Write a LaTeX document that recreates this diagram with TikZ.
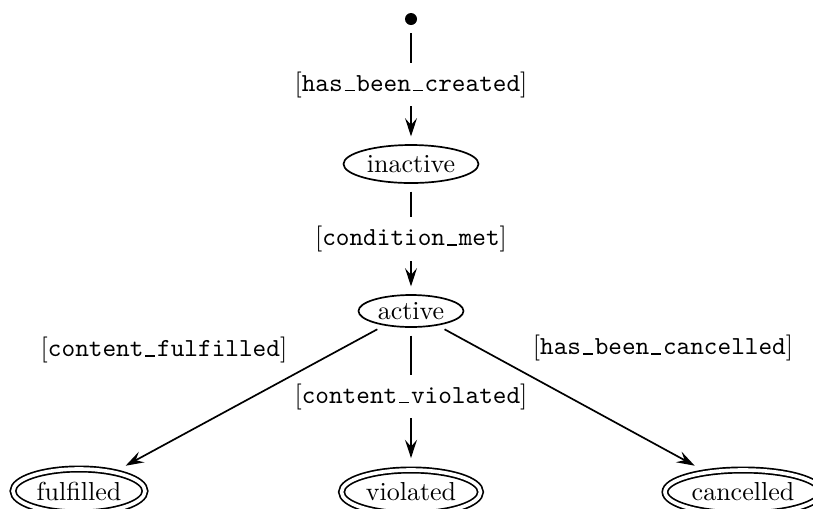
\documentclass[tikz,border=0pt]{standalone}
\usetikzlibrary{shapes.geometric,arrows.meta}
\newcommand\pxu{0.3846pt}
\newcommand\us{\makebox[0.525em]{\rule{0.38em}{0.45pt}}}
\newcommand\guard[1]{$[$\texttt{#1}$]$}
\begin{document}
\begin{tikzpicture}[x=0.3846pt,y=-0.3846pt,
  state/.style={ellipse,draw,line width=0.65pt,inner sep=0pt},
  final/.style={state,double,double distance=1.4pt,outer sep=1.6pt},
  trans/.style={line width=0.65pt,-{Stealth[length=7pt,width=4.6pt,inset=2.6pt]},shorten <=3pt,shorten >=3pt},
  guardlbl/.style={fill=white,inner sep=3.3pt}]
\useasboundingbox (0,0) rectangle (813,508);
\node[circle,fill,inner sep=0pt,minimum size=12*\pxu] (start) at (411,19) {};
\node[state,minimum width=135*\pxu,minimum height=38*\pxu] (inactive) at (411,164) {inactive};
\node[state,minimum width=105*\pxu,minimum height=32*\pxu] (active) at (411,311) {active};
\node[final,minimum width=132*\pxu,minimum height=44*\pxu] (fulfilled) at (79,491) {fulfilled};
\node[final,minimum width=139*\pxu,minimum height=44*\pxu] (violated) at (411,492) {violated};
\node[final,minimum width=156*\pxu,minimum height=44*\pxu] (cancelled) at (743,492) {cancelled};
\draw[trans] (start) -- node[guardlbl] (g1) {\guard{has\us been\us created}} (inactive);
\draw[trans] (inactive) -- node[guardlbl] (g2) {\guard{condition\us met}} (active);
\draw[trans] (active) -- node[guardlbl] (g3) {\guard{content\us violated}} (violated);
\draw[trans] (active) -- (fulfilled);
\draw[trans] (active) -- (cancelled);
\node (g4) at (164,350) {\guard{content\us fulfilled}};
\node (g5) at (663,348) {\guard{has\us been\us cancelled}};
\end{tikzpicture}
\end{document}
